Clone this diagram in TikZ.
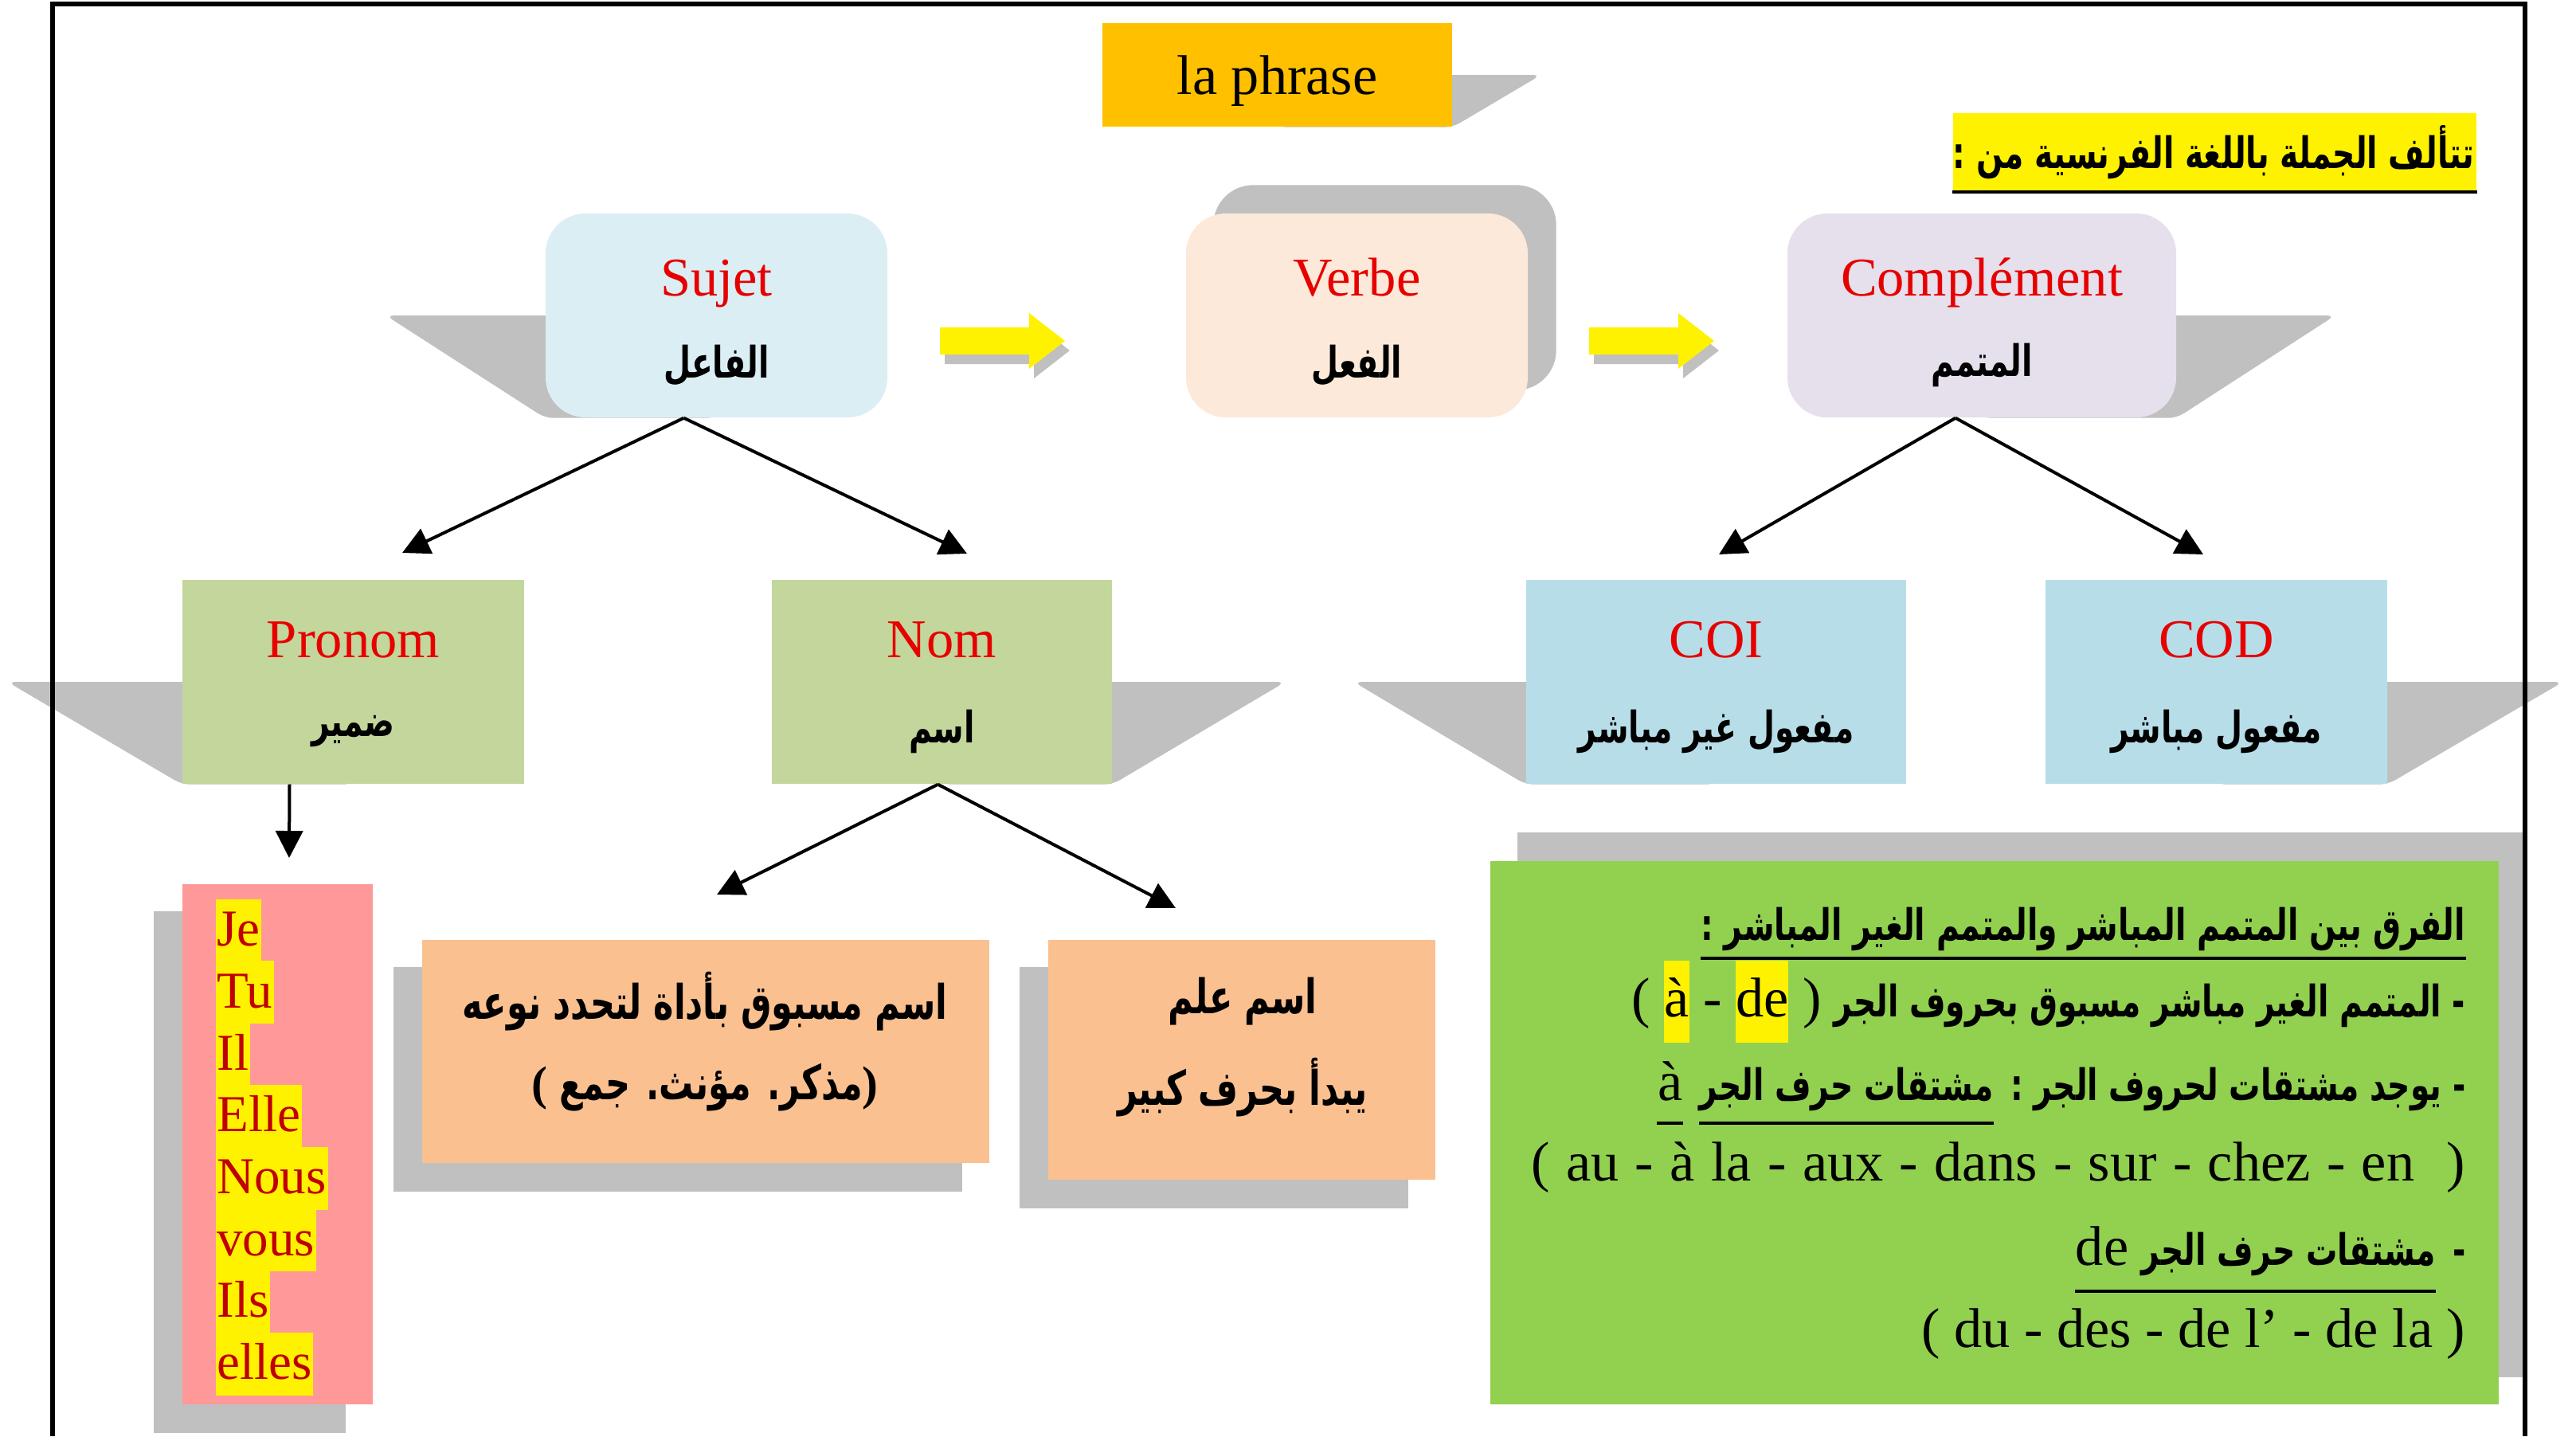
\documentclass[tikz,border=0pt]{standalone}
\usepackage{fontspec}
\setmainfont{Liberation Serif}
\newfontfamily\arabicfont[Script=Arabic,FakeStretch=0.72]{DejaVu Sans}
\TeXXeTstate=1
\usetikzlibrary{arrows.meta,backgrounds}

\definecolor{shadowgray}{HTML}{C0C0C0}
\definecolor{phrasecol}{HTML}{FFC000}
\definecolor{sujetcol}{HTML}{DBEEF4}
\definecolor{verbecol}{HTML}{FDE9D9}
\definecolor{complcol}{HTML}{E5E0EC}
\definecolor{nomcol}{HTML}{C3D69B}
\definecolor{objcol}{HTML}{B7DEE8}
\definecolor{pinkcol}{HTML}{FF9999}
\definecolor{artcol}{HTML}{FAC090}
\definecolor{diffcol}{HTML}{92D050}
\definecolor{lblred}{HTML}{E60000}
\definecolor{pronred}{HTML}{C00000}

\newcommand\hlt[1]{{\setlength\fboxsep{0pt}\colorbox{yellow}{\rule[-0.33cm]{0pt}{1.03cm}#1}}}

\tikzstyle{nodebox} = [minimum height=2.56cm, inner sep=0pt]
\tikzstyle{roundbox} = [nodebox, rounded corners=0.5cm]
\tikzstyle{frlabel} = [font=\fontsize{19.5}{22}\selectfont, text=lblred, anchor=base, inner sep=0pt]
\tikzstyle{arlabel} = [font=\arabicfont\bfseries\fontsize{15.5}{18}\selectfont, inner sep=0pt]
\tikzstyle{arbody} = [font=\arabicfont\bfseries\fontsize{15.5}{18}\selectfont, inner sep=0pt]
\tikzstyle{arbig} = [font=\arabicfont\bfseries\fontsize{17}{20}\selectfont, inner sep=0pt]
\tikzstyle{latext} = [font=\fontsize{20}{22}\selectfont, inner sep=0pt]
\tikzstyle{pronword} = [anchor=north west, fill=yellow, text=pronred, inner xsep=0.5pt, inner ysep=0pt, text height=0.59cm, text depth=0.20cm, font=\fontsize{18.5}{20}\selectfont]
\tikzstyle{shadowfill} = [fill=shadowgray]
\tikzstyle{link} = [draw, line width=0.04cm, -{Triangle[width=0.34cm,length=0.34cm]}]
\tikzstyle{uline} = [draw, line width=0.04cm]

\begin{document}
\begin{tikzpicture}
    \useasboundingbox (0,0) rectangle (32.34,-18.03);
    % frame
    \draw[line width=0.06cm] (0.66,-18.03) -- (0.66,-0.05) -- (31.70,-0.05) -- (31.70,-18.03);

    % nodes
    \node[nodebox, fill=phrasecol, minimum width=4.39cm, minimum height=1.30cm] (phrase) at (16.035,-0.94) {};
    \node[anchor=base, inner sep=0pt, font=\fontsize{20}{24}\selectfont] (phrase-fr) at ([yshift=-0.24cm]phrase.center) {la phrase};

    \foreach \name/\x/\y/\w/\sty/\col/\dy/\fr/\ar in {
      sujet/8.995/-3.96/4.29/roundbox/sujetcol/1.04/Sujet/الفاعل,
      verbe/17.035/-3.96/4.29/roundbox/verbecol/1.04/Verbe/الفعل,
      compl/24.88/-3.96/4.88/roundbox/complcol/1.04/Complément/المتمم,
      pronom/4.435/-8.56/4.29/nodebox/nomcol/0.98/Pronom/ضمير,
      nom/11.825/-8.56/4.27/nodebox/nomcol/0.98/Nom/اسم,
      coi/21.545/-8.56/4.77/nodebox/objcol/0.98/COI/مفعول غير مباشر,
      cod/27.825/-8.56/4.29/nodebox/objcol/0.98/COD/مفعول مباشر}
    {
      \node[\sty, fill=\col, minimum width=\w cm] (\name) at (\x,\y) {};
      \node[frlabel] (\name-fr) at ([yshift=-\dy cm]\name.north) {\fr};
      \node[arlabel] (\name-ar) at ([yshift=-1.91cm]\name.north) {\beginR\ar\endR};
    }

    \node[nodebox, fill=yellow, minimum width=6.57cm, minimum height=0.98cm] (title) at (27.805,-1.91) {};
    \node[arlabel, anchor=east] (title-ar) at ([xshift=-0.03cm]title.east) {\beginR تتألف الجملة باللغة الفرنسية من :\endR};
    \draw[uline] (title.south west) -- (title.south east);

    % pronouns
    \node[nodebox, fill=pinkcol, minimum width=2.39cm, minimum height=6.53cm] (plist) at (3.485,-14.365) {};
    \foreach \word [count=\i from 0] in {Je,Tu,Il,Elle,Nous,vous,Ils,elles}
      \node[pronword] (w\i) at (2.70,-11.28-0.777*\i) {\word};

    % kinds of noun
    \node[nodebox, fill=artcol, minimum width=7.12cm, minimum height=2.80cm] (art) at (8.86,-13.2) {};
    \node[arbig] (art-1) at (8.85,-12.57) {\beginR اسم مسبوق بأداة لتحدد نوعه\endR};
    \node[arbig] (art-2) at (8.85,-13.65) {\textrm{(} \beginR مذكر. مؤنث. جمع\endR\textrm{)}};
    \node[nodebox, fill=artcol, minimum width=4.86cm, minimum height=3.01cm] (propre) at (15.59,-13.305) {};
    \node[arbig] (propre-1) at (15.6,-12.57) {\beginR اسم علم\endR};
    \node[arbig] (propre-2) at (15.6,-13.65) {\beginR يبدأ بحرف كبير\endR};

    % COD / COI
    \node[nodebox, fill=diffcol, minimum width=12.66cm, minimum height=6.82cm] (diff) at (25.04,-14.22) {};
    \node[arbody, anchor=base east] (d1) at (30.96,-11.80) {\beginR الفرق بين المتمم المباشر والمتمم الغير المباشر :\endR};
    \draw[uline] ([yshift=-0.23cm]d1.base west) -- ([yshift=-0.23cm]d1.base east);
    \node[arbody, anchor=base east] (d2) at (30.96,-12.76) {\beginR - المتمم الغير مباشر مسبوق بحروف الجر\endR};
    \node[latext, anchor=base east] (d2-fr) at ([xshift=-0.15cm]d2.base west) {( \hlt{à} - \hlt{de} )};
    \node[arbody, anchor=base east] (d3) at (30.96,-13.81) {\beginR - يوجد مشتقات لحروف الجر :\endR};
    \node[arbody, anchor=base east] (d3b) at ([xshift=-0.2cm]d3.base west) {\beginR مشتقات حرف الجر\endR};
    \node[latext, anchor=base east] (d3-fr) at ([xshift=-0.2cm]d3b.base west) {à};
    \draw[uline] ([yshift=-0.29cm]d3b.base west) -- ([yshift=-0.29cm]d3b.base east);
    \draw[uline] ([yshift=-0.29cm]d3-fr.base west) -- ([yshift=-0.29cm]d3-fr.base east);
    \node[latext, anchor=base east] (d4) at (30.96,-14.82) {\spaceskip=0.29em ( au - à la - aux - dans - sur - chez - en \ )};
    \node[arbody, anchor=base east] (d5) at (30.96,-15.88) {-};
    \node[arbody, anchor=base east] (d5b) at ([xshift=-0.2cm]d5.base west) {\beginR مشتقات حرف الجر\endR};
    \node[latext, anchor=base east] (d5-fr) at ([xshift=-0.15cm]d5b.base west) {de};
    \draw[uline] ([yshift=-0.33cm]d5-fr.base west) -- ([yshift=-0.33cm]d5b.base east);
    \node[latext, anchor=base east] (d6) at (30.96,-16.91) {( du - des - de l' - de la )};

    % shadows
    \begin{pgfonlayer}{background}
      \foreach \name/\side/\corner/\w in {phrase/east/south east/1.11, sujet/west/south west/-2.0,
        compl/east/south east/1.99, pronom/west/south west/-2.19, nom/east/south east/2.17,
        coi/west/south west/-2.16, cod/east/south east/2.2}
        \fill[shadowfill, rounded corners=3pt] (\name.center) -- (\name.\side) -- ++(\w,0) -- (\name.\corner) -- (\name.south) -- cycle;
      \fill[shadowfill, rounded corners=0.5cm] ([shift={(0.35,0.35)}]verbe.south west) rectangle ([shift={(0.35,0.35)}]verbe.north east);
      \foreach \name/\dx in {plist/-0.35, art/-0.35, propre/-0.35, diff/0.35}
        \fill[shadowfill] ([shift={(\dx,\dx)}]\name.south west) rectangle ([shift={(\dx,\dx)}]\name.north east);
    \end{pgfonlayer}

    % yellow arrows
    \foreach \x in {11.80, 19.95}
      \foreach \dx/\dy/\col in {0.06/-0.12/shadowgray, 0/0/yellow}
        \fill[\col] (\x+\dx,-4.11+\dy) -- ++(1.12,0) -- ++(0,0.18) -- ++(0.45,-0.35) -- ++(-0.45,-0.35) -- ++(0,0.18) -- ++(-1.12,0) -- cycle;

    % edges
    \coordinate (pronom-in) at (5.05,-6.94);
    \coordinate (nom-in) at (12.14,-6.95);
    \coordinate (coi-in) at (21.58,-6.96);
    \coordinate (cod-in) at (27.66,-6.96);
    \coordinate (plist-in) at (3.63,-10.77);
    \coordinate (art-in) at (9.0,-11.23);
    \coordinate (propre-in) at (14.76,-11.40);
    \path
    \foreach \startnode/\dx/\endnode in {
      sujet/-0.41/pronom-in, sujet/-0.41/nom-in, compl/-0.33/coi-in, compl/-0.33/cod-in,
      pronom/-0.8/plist-in, nom/-0.05/art-in, nom/-0.05/propre-in}
    {
      ([xshift=\dx cm]\startnode.south) edge[link] (\endnode)
    };
\end{tikzpicture}
\end{document}
